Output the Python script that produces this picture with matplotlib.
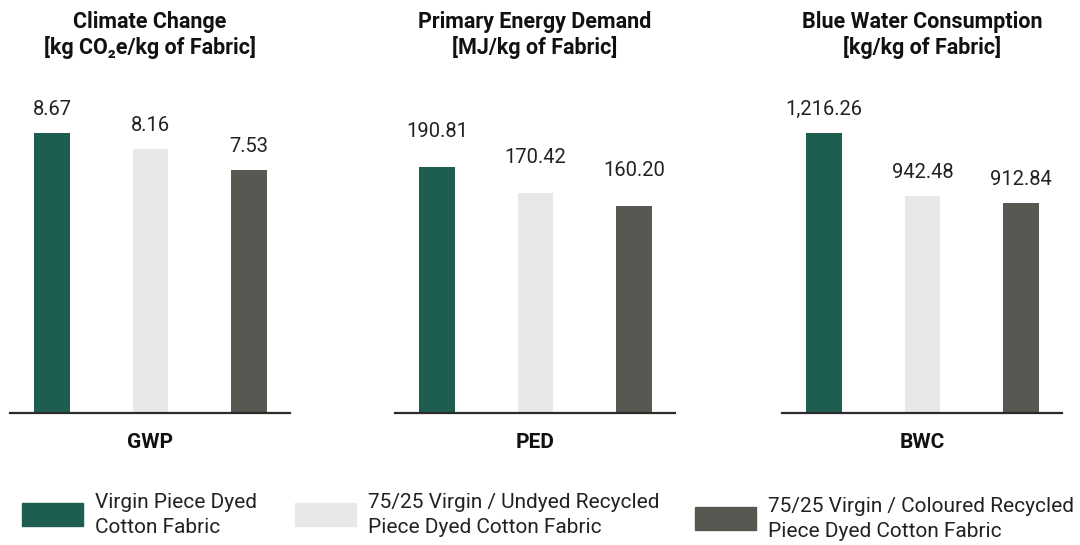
import matplotlib.pyplot as plt
from matplotlib.patches import Rectangle

plt.rcParams['font.family'] = ['Roboto', 'DejaVu Sans']

titles = ["Climate Change\n[kg CO\u2082e/kg of Fabric]",
          "Primary Energy Demand\n[MJ/kg of Fabric]",
          "Blue Water Consumption\n[kg/kg of Fabric]"]
indicators = ["GWP", "PED", "BWC"]
series = ["Virgin Piece Dyed\nCotton Fabric",
          "75/25 Virgin / Undyed Recycled\nPiece Dyed Cotton Fabric",
          "75/25 Virgin / Coloured Recycled\nPiece Dyed Cotton Fabric"]
gwp = [8.67, 8.16, 7.53]
ped = [190.81, 170.42, 160.20]
bwc = [1216.26, 942.48, 912.84]
values = [gwp, ped, bwc]

colors = ["#1d5e50", "#e8e8e8", "#585853"]
ytops = [9.69, 242.8, 1359.6]
label_gap = [18, 30, 18]   # px between bar top and value label
lefts = [10, 395, 782]     # panel left edges in px

W, H = 1080, 545
fig = plt.figure(figsize=(W / 100, H / 100), dpi=100)

for i in range(3):
    ax = fig.add_axes([lefts[i] / W, (H - 413) / H, 280 / W, 313 / H])
    x = range(3)
    ax.bar(x, values[i], width=0.365, color=colors)
    ax.set_xlim(-0.426, 2.416)
    ax.set_ylim(0, ytops[i])
    for s in ['top', 'right', 'left']:
        ax.spines[s].set_visible(False)
    ax.spines['bottom'].set_color('#2b2b2b')
    ax.spines['bottom'].set_linewidth(1.6)
    ax.set_xticks([])
    ax.set_yticks([])
    for xi, v in zip(x, values[i]):
        ax.annotate(f"{v:,.2f}", (xi, v), xytext=(0, label_gap[i]),
                    textcoords='offset pixels', ha='center', va='baseline',
                    fontsize=14.5, color='#222222')
    ax.annotate(indicators[i], (0.5, 0), xycoords='axes fraction',
                xytext=(0, -30), textcoords='offset pixels',
                ha='center', va='center', fontsize=15, fontweight='bold',
                color='#111111')
    fig.text((lefts[i] + 140) / W, 1 - 35 / H, titles[i], ha='center',
             va='center', fontsize=15.5, fontweight='bold', color='#111111',
             linespacing=1.2)

# legend
sw_x = [22, 295, 695]
sw_y = [503, 503, 507]
txt_x = [95, 368, 768]
for j in range(3):
    fig.add_artist(Rectangle((sw_x[j] / W, 1 - (sw_y[j] + 23) / H), 61 / W, 23 / H,
                             transform=fig.transFigure, color=colors[j]))
    fig.text(txt_x[j] / W, 1 - (sw_y[j] + 12) / H, series[j], ha='left',
             va='center', fontsize=15, color='#222222', linespacing=1.4)

fig.savefig("out.png", dpi=100)
